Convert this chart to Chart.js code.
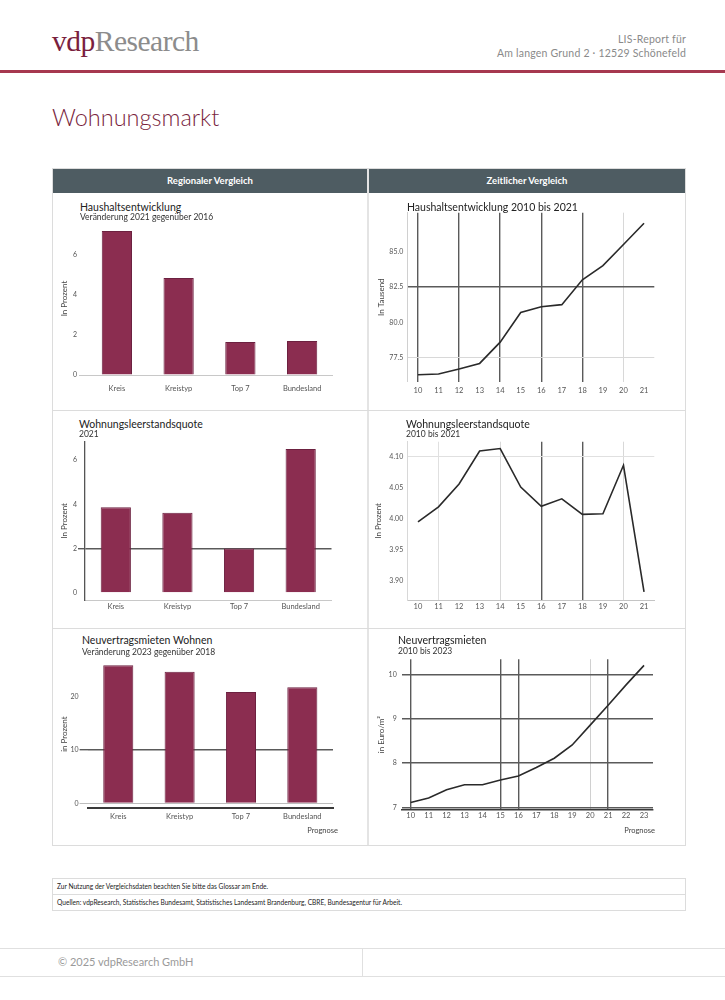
<!DOCTYPE html>
<html lang="de">
<head>
<meta charset="utf-8">
<title>Wohnungsmarkt</title>
<script src="https://cdn.jsdelivr.net/npm/chart.js@4.4.1/dist/chart.umd.min.js"></script>
<style>
  body { margin: 0; width: 725px; height: 1000px; position: relative; background: #fff; overflow: hidden;
         font-family: Lato, "Open Sans", sans-serif; color: #333; }
  .abs { position: absolute; }
  canvas { position: absolute; }
  .logo { left: 52px; top: 25px; font-family: "Liberation Serif", "DejaVu Serif", serif; font-size: 29.5px; letter-spacing: -0.5px; }
  .logo .vdp { color: #7a1f3e; }
  .logo .res { color: #8c8c8c; }
  .adresse { right: 39px; top: 32px; text-align: right; font-size: 10.5px; line-height: 14px; color: #8a8a8a; letter-spacing: 0.2px; }
  .linie { left: 0; top: 70px; width: 725px; height: 3px; background: #a6384f; }
  .seitentitel { left: 52px; top: 103px; font-size: 23.5px; color: #7a1f3e; font-weight: 300; }
  .rahmen { left: 52px; top: 168px; width: 632px; height: 676px; border: 1px solid #dcdcdc; }
  .kopf { top: 169px; height: 24px; background: #4e5c62; color: #fff; font-size: 9.5px; font-weight: bold;
          line-height: 24px; text-align: center; }
  .trenner-v { left: 367px; top: 169px; width: 2px; height: 676px; background: #e4e4e4; }
  .trenner-h { left: 53px; width: 632px; height: 1px; background: #dcdcdc; }
  .ct { font-size: 10.5px; color: #222; white-space: nowrap; z-index: 2; }
  .cs { font-size: 8.5px; color: #333; white-space: nowrap; z-index: 2; }
  .prognose { font-size: 7.5px; color: #444; text-align: right; }
  .hinweise { left: 52px; top: 878px; width: 632px; border: 1px solid #dcdcdc; font-size: 6.6px; color: #222; }
  .hinweise div { height: 15px; line-height: 15px; padding-left: 4px; }
  .hinweise div + div { border-top: 1px solid #dcdcdc; }
  .fuss { left: 0; top: 948px; width: 725px; height: 27px; border-top: 1px solid #e0e0e0; border-bottom: 1px solid #e0e0e0; }
  .fuss .sp { position: absolute; left: 362px; top: 0; width: 1px; height: 27px; background: #e0e0e0; }
  .fuss .text { position: absolute; left: 58px; top: 6px; font-size: 11px; color: #9a9a9a; }
</style>
</head>
<body>

<div class="abs logo"><span class="vdp">vdp</span><span class="res">Research</span></div>
<div class="abs adresse">LIS-Report für<br>Am langen Grund 2 · 12529 Schönefeld</div>
<div class="abs linie"></div>
<div class="abs seitentitel">Wohnungsmarkt</div>

<div class="abs rahmen"></div>
<div class="abs kopf" style="left:53px;width:314px;">Regionaler Vergleich</div>
<div class="abs kopf" style="left:369px;width:316px;">Zeitlicher Vergleich</div>
<div class="abs trenner-v"></div>
<div class="abs trenner-h" style="top:410px;"></div>
<div class="abs trenner-h" style="top:628px;"></div>

<div class="abs ct" style="left:80px;top:201px;">Haushaltsentwicklung</div>
<div class="abs cs" style="left:80px;top:212px;">Veränderung 2021 gegenüber 2016</div>
<div class="abs ct" style="left:407px;top:201px;">Haushaltsentwicklung 2010 bis 2021</div>

<div class="abs ct" style="left:79px;top:418px;">Wohnungsleerstandsquote</div>
<div class="abs cs" style="left:79px;top:429px;">2021</div>
<div class="abs ct" style="left:406px;top:418px;">Wohnungsleerstandsquote</div>
<div class="abs cs" style="left:406px;top:429px;">2010 bis 2021</div>

<div class="abs ct" style="left:82px;top:634px;">Neuvertragsmieten Wohnen</div>
<div class="abs cs" style="left:82px;top:647px;">Veränderung 2023 gegenüber 2018</div>
<div class="abs ct" style="left:398px;top:634px;">Neuvertragsmieten</div>
<div class="abs cs" style="left:398px;top:646px;">2010 bis 2023</div>

<canvas id="c1"></canvas>
<canvas id="c2"></canvas>
<canvas id="c3"></canvas>
<canvas id="c4"></canvas>
<canvas id="c5"></canvas>
<canvas id="c6"></canvas>

<div class="abs prognose" style="left:280px;top:826px;width:58px;">Prognose</div>
<div class="abs prognose" style="left:597px;top:826px;width:58px;">Prognose</div>

<div class="abs hinweise">
  <div>Zur Nutzung der Vergleichsdaten beachten Sie bitte das Glossar am Ende.</div>
  <div>Quellen: vdpResearch, Statistisches Bundesamt, Statistisches Landesamt Brandenburg, CBRE, Bundesagentur für Arbeit.</div>
</div>

<div class="abs fuss"><div class="text">© 2025 vdpResearch GmbH</div><div class="sp"></div></div>

<script>
// Daten
const regionen = ['Kreis', 'Kreistyp', 'Top 7', 'Bundesland'];
const haushaltVeraenderung = [7.2, 4.85, 1.65, 1.7];      // % 2021 ggü. 2016
const leerstandsquote2021 = [3.87, 3.62, 2.0, 6.5];        // %
const mietenVeraenderung = [25.9, 24.7, 20.9, 21.8];       // % 2023 ggü. 2018

const jahreBis21 = ['10', '11', '12', '13', '14', '15', '16', '17', '18', '19', '20', '21'];
const jahreBis23 = ['10', '11', '12', '13', '14', '15', '16', '17', '18', '19', '20', '21', '22', '23'];
const haushalte = [76.3, 76.35, 76.7, 77.1, 78.6, 80.7, 81.1, 81.25, 83.0, 84.0, 85.5, 87.0];          // Tausend
const leerstand = [3.995, 4.019, 4.056, 4.109, 4.113, 4.051, 4.020, 4.032, 4.007, 4.008, 4.086, 3.882]; // %
const mieten = [7.11, 7.21, 7.40, 7.51, 7.51, 7.62, 7.71, 7.90, 8.11, 8.41, 8.86, 9.31, 9.77, 10.21];   // Euro/m²

const ticksHaushaltBalken = [0, 2, 4, 6];
const ticksLeerstandBalken = [0, 2, 4, 6];
const ticksMietenBalken = [0, 10, 20];
const ticksHaushalte = [77.5, 80.0, 82.5, 85.0];
const ticksLeerstand = [3.90, 3.95, 4.00, 4.05, 4.10];
const ticksMieten = [7, 8, 9, 10];

const FONT = 'Lato, "Open Sans", sans-serif';
const BORDEAUX = '#8b2d50';
const BORDEAUX_RAND = '#6c2140';
const LEER = 'rgba(0,0,0,0)';
const DUNKEL = '#5a5a5a';
const HELL = '#d8d8d8';

function gitterFuer(wert, liste) {
    for (const [v, farbe, breite] of liste) {
        if (Math.abs(v - wert) < 1e-6) return [farbe, breite];
    }
    return [LEER, 1];
}

function diagramm(p) {
    const canvas = document.getElementById(p.id);
    const [bl, bt, bw, bh] = p.box;
    const [pl, pt, pr, pb] = p.plot;
    canvas.width = bw;
    canvas.height = bh;
    canvas.style.left = bl + 'px';
    canvas.style.top = bt + 'px';

    const balken = p.typ === 'bar';
    const datensatz = balken
        ? { data: p.werte, backgroundColor: BORDEAUX, borderColor: BORDEAUX_RAND, borderWidth: 1,
            barPercentage: 0.49, categoryPercentage: 1 }
        : { data: p.werte, borderColor: '#2a2a2a', borderWidth: 1.6, pointRadius: 0, tension: 0, fill: false };
    const xg = p.xGitter || {};

    return new Chart(canvas, {
        type: p.typ,
        data: { labels: p.labels, datasets: [datensatz] },
        options: {
            responsive: false,
            animation: false,
            layout: { padding: { left: 0, top: pt - bt, right: bl + bw - pr, bottom: 0 } },
            plugins: { legend: { display: false }, tooltip: { enabled: false } },
            scales: {
                x: {
                    offset: true,
                    afterFit: s => { s.height = bt + bh - pb; },
                    grid: {
                        display: !!p.xGitter, drawTicks: false, offset: false,
                        color: c => (xg[c.index] || [LEER])[0],
                        lineWidth: c => (xg[c.index] || [LEER, 1])[1]
                    },
                    border: p.xRand ? { display: true, color: p.xRand[0], width: p.xRand[1] } : { display: false },
                    ticks: { color: '#555', font: { size: 7.5, family: FONT }, padding: p.xAbstand,
                             maxRotation: 0, autoSkip: false }
                },
                y: {
                    min: p.bereich[0],
                    max: p.bereich[1],
                    afterFit: s => { s.width = pl - bl; },
                    afterBuildTicks: s => { s.ticks = p.yTicks.map(v => ({ value: v })); },
                    grid: {
                        drawTicks: p.stummel > 0, tickLength: p.stummel,
                        color: c => gitterFuer(c.tick ? c.tick.value : NaN, p.yGitter)[0],
                        lineWidth: c => gitterFuer(c.tick ? c.tick.value : NaN, p.yGitter)[1]
                    },
                    border: p.yRand ? { display: true, color: p.yRand[0], width: p.yRand[1] } : { display: false },
                    ticks: { color: '#555', font: { size: 7, family: FONT }, padding: p.yAbstand,
                             callback: v => p.format(v) },
                    title: { display: true, text: p.yTitel, color: '#444', font: { size: 8, family: FONT },
                             padding: { top: p.titelAbstand, bottom: 0 } }
                }
            }
        }
    });
}

const ganz = v => String(v);

// Regionaler Vergleich
diagramm({
    id: 'c1', typ: 'bar', labels: regionen, werte: haushaltVeraenderung,
    box: [53, 214, 314, 190], plot: [86, 222, 333, 375],
    bereich: [0, 7.65], yTicks: ticksHaushaltBalken, format: ganz,
    yGitter: [[0, '#c8c8c8', 1]], stummel: 7, yAbstand: 2, xAbstand: 9,
    yTitel: 'In Prozent', titelAbstand: 7
});

diagramm({
    id: 'c3', typ: 'bar', labels: regionen, werte: leerstandsquote2021,
    box: [53, 432, 314, 193], plot: [85, 441.7, 331.5, 600],
    bereich: [-0.33, 6.83], yTicks: ticksLeerstandBalken, format: ganz,
    yGitter: [[2, DUNKEL, 1.4]], stummel: 7, yAbstand: 1, xAbstand: 2,
    yRand: ['#555', 1.3], xRand: ['#c8c8c8', 1],
    yTitel: 'In Prozent', titelAbstand: 7
});

diagramm({
    id: 'c5', typ: 'bar', labels: regionen, werte: mietenVeraenderung,
    box: [53, 650, 314, 192], plot: [87.6, 660, 333, 808.3],
    bereich: [-0.94, 26.9], yTicks: ticksMietenBalken, format: ganz,
    yGitter: [[10, DUNKEL, 1.4], [0, '#bdbdbd', 1]], stummel: 8, yAbstand: 1, xAbstand: 3.5,
    xRand: ['#3a3a3a', 2],
    yTitel: 'in Prozent', titelAbstand: 7
});

// Zeitlicher Vergleich
diagramm({
    id: 'c2', typ: 'line', labels: jahreBis21, werte: haushalte,
    box: [370, 204, 315, 200], plot: [407.7, 212, 654.3, 381.7],
    bereich: [75.81, 87.74], yTicks: ticksHaushalte, format: v => v.toFixed(1),
    yGitter: [[82.5, DUNKEL, 1.4], [77.5, HELL, 1]], stummel: 0, yAbstand: 4.5, xAbstand: 4,
    xGitter: { 0: [DUNKEL, 1.4], 2: [DUNKEL, 1.4], 4: [DUNKEL, 1.4], 6: [DUNKEL, 1.4], 8: [DUNKEL, 1.4], 10: [HELL, 1] },
    yRand: ['#d0d0d0', 1],
    yTitel: 'In Tausend', titelAbstand: 7
});

diagramm({
    id: 'c4', typ: 'line', labels: jahreBis21, werte: leerstand,
    box: [370, 432, 315, 193], plot: [407.7, 441.7, 654.3, 600],
    bereich: [3.869, 4.124], yTicks: ticksLeerstand, format: v => v.toFixed(2),
    yGitter: [[4.10, '#e0e0e0', 1]], stummel: 0, yAbstand: 4.5, xAbstand: 2.5,
    xGitter: { 1: ['#e0e0e0', 1], 4: [HELL, 1], 6: [DUNKEL, 1.4], 8: [DUNKEL, 1.4], 10: [HELL, 1] },
    yRand: ['#d8d8d8', 1], xRand: ['#c4c4c4', 1],
    yTitel: 'In Prozent', titelAbstand: 3.5
});

diagramm({
    id: 'c6', typ: 'line', labels: jahreBis23, werte: mieten,
    box: [370, 650, 315, 192], plot: [401.7, 658.3, 653, 810],
    bereich: [6.94, 10.35], yTicks: ticksMieten, format: ganz,
    yGitter: [[7, DUNKEL, 1.4], [8, DUNKEL, 1.4], [9, DUNKEL, 1.4], [10, DUNKEL, 1.4]], stummel: 0, yAbstand: 5, xAbstand: 1.5,
    xGitter: { 0: [DUNKEL, 1.4], 5: [DUNKEL, 1.4], 6: [DUNKEL, 1.4], 10: ['#d0d0d0', 1], 11: [DUNKEL, 1.4] },
    xRand: ['#3a3a3a', 1.6],
    yTitel: 'in Euro/m²', titelAbstand: 7
});
</script>
</body>
</html>
